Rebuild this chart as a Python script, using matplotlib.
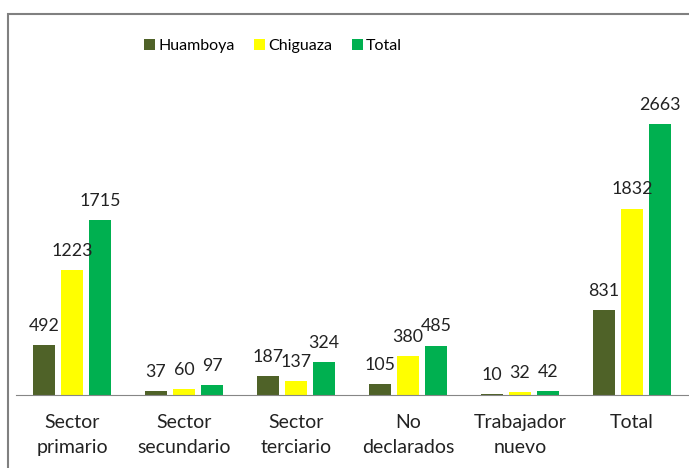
import matplotlib
matplotlib.use('Agg')
import matplotlib.pyplot as plt
import numpy as np
from matplotlib.patches import Rectangle

categories = ['Sector\nprimario', 'Sector\nsecundario', 'Sector\nterciario',
              'No\ndeclarados', 'Trabajador\nnuevo', 'Total']
huamboya = [492, 37, 187, 105, 10, 831]
chiguaza = [1223, 60, 137, 380, 32, 1832]
total = [1715, 97, 324, 485, 42, 2663]
series_names = ['Huamboya', 'Chiguaza', 'Total']
colors = ['#4F6228', '#FFFF00', '#00B050']

plt.rcParams['font.family'] = ['Lato', 'DejaVu Sans']

fig = plt.figure(figsize=(6.89, 4.68), dpi=100)
ax = fig.add_axes([16 / 689, 1 - 395 / 468, 672 / 689, 305.4 / 468])

x = np.arange(len(categories))
step = 0.25
width = 0.2
for i, (vals, name, c) in enumerate(zip([huamboya, chiguaza, total], series_names, colors)):
    bars = ax.bar(x + (i - 1) * step, vals, width, color=c, label=name)
    for b, v in zip(bars, vals):
        ax.text(b.get_x() + b.get_width() / 2, v + 110, str(v), ha='center', va='bottom',
                fontsize=12.8, color='#222222')

ax.set_xlim(-0.5, 5.5)
ax.set_ylim(0, 3000)
ax.set_yticks([])
ax.set_xticks(x)
ax.set_xticklabels(categories, fontsize=14, color='#222222', linespacing=1.55)
ax.tick_params(axis='x', length=0, pad=14)
for s in ['top', 'left', 'right']:
    ax.spines[s].set_visible(False)
ax.spines['bottom'].set_color('#868686')

fig.legend(loc='center', bbox_to_anchor=(273 / 689, 1 - 46 / 468), ncol=3, frameon=False,
           fontsize=11.5, handlelength=0.7, handleheight=0.7, handletextpad=0.2, columnspacing=1.2)

# outer chart border (cropped on right and bottom)
fig.patches.append(Rectangle((8 / 689, -0.1), 1.2, 0.1 + 1 - 14 / 468, transform=fig.transFigure,
                             fill=False, edgecolor='#808080', linewidth=1.5))

fig.savefig('out.png', dpi=100)
